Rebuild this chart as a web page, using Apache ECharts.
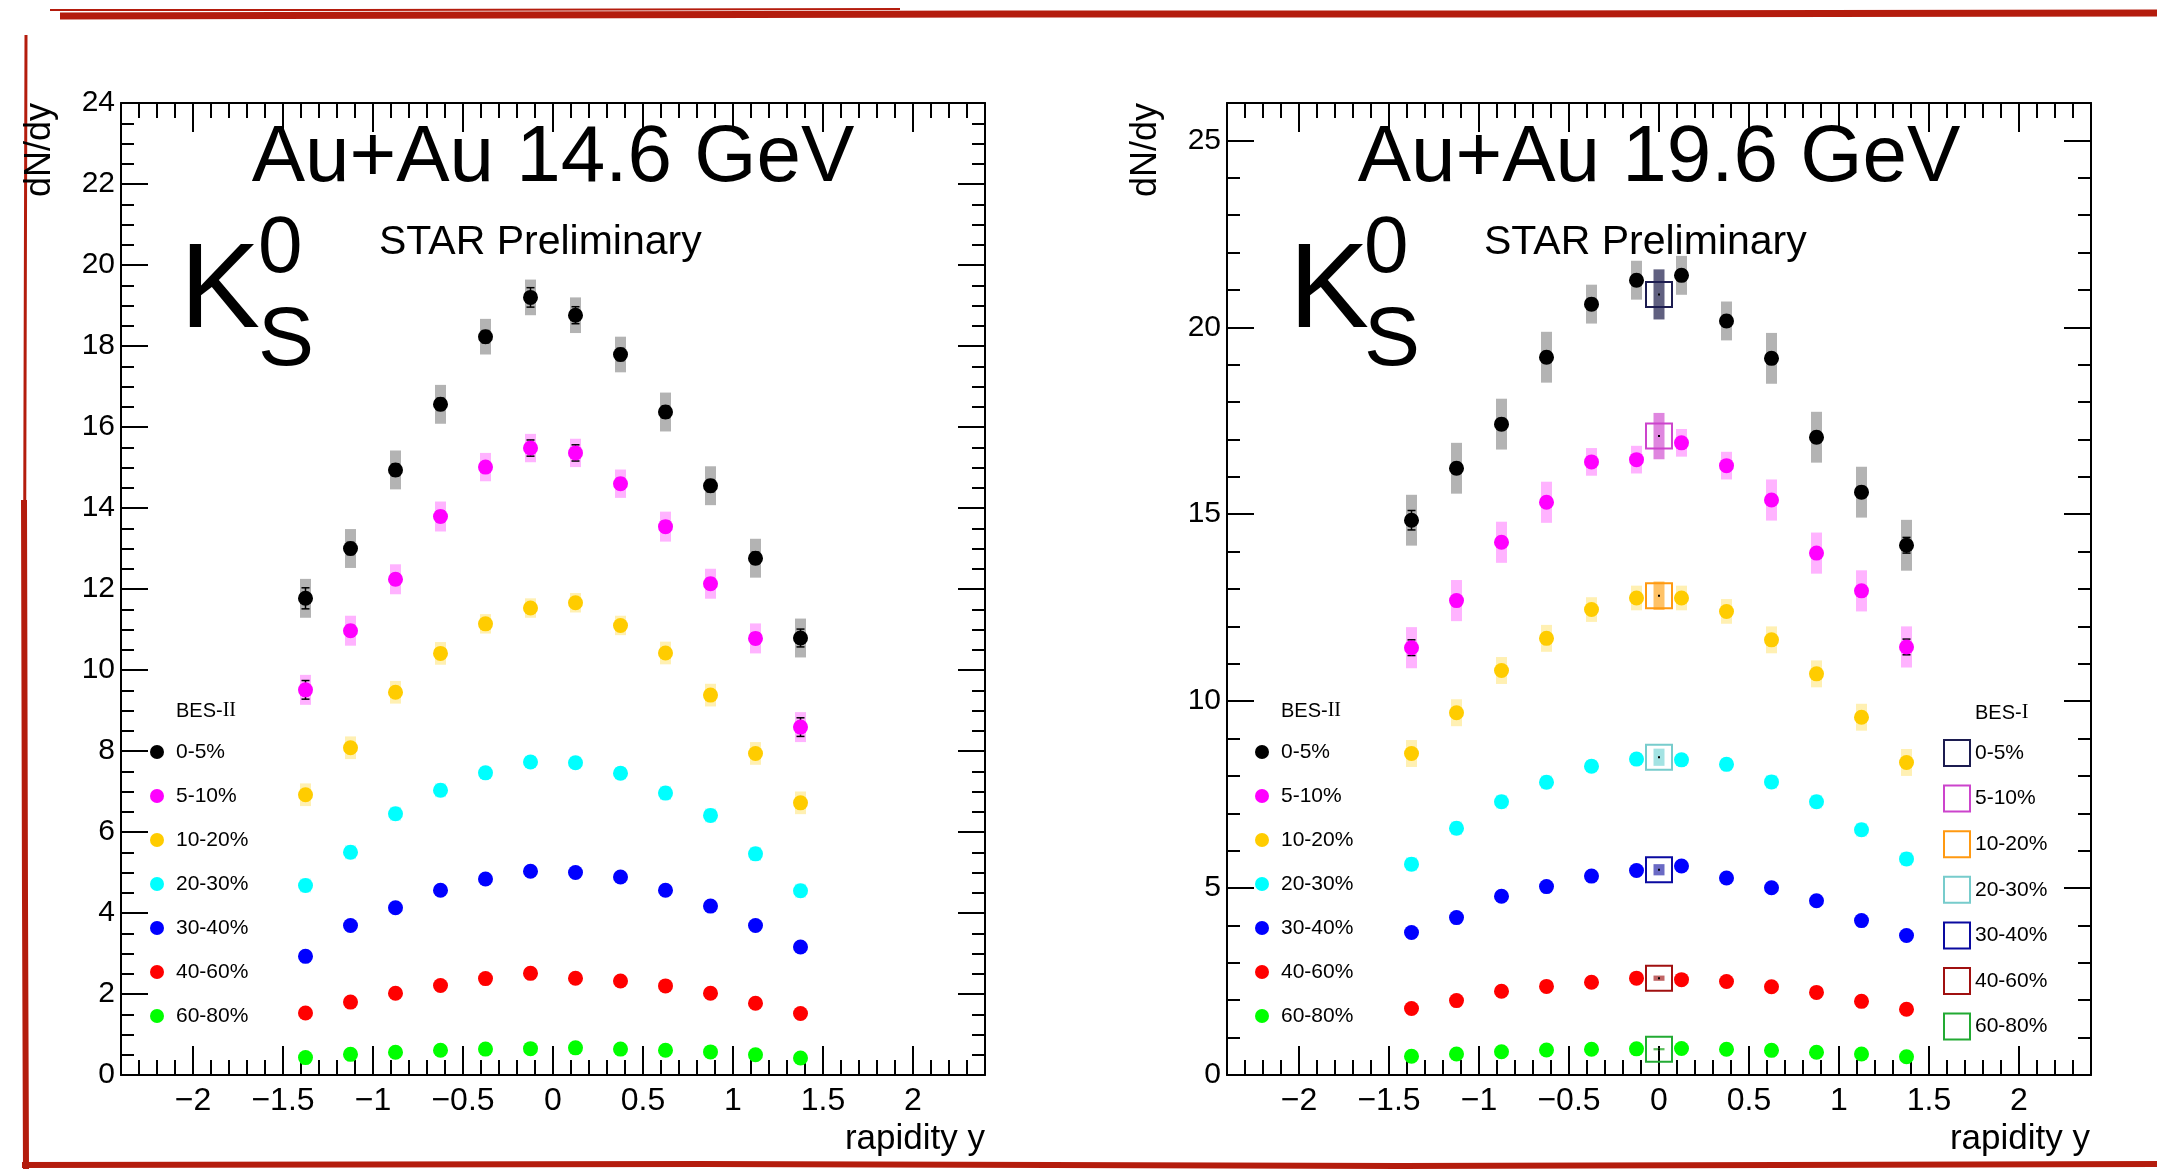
<!DOCTYPE html>
<html>
<head>
<meta charset="UTF-8">
<script src="https://cdn.jsdelivr.net/npm/echarts@6.0.0/dist/echarts.min.js"></script>
<style>
  html, body { margin: 0; padding: 0; background: #fff; }
  #chart { width: 2157px; height: 1169px; }
</style>
</head>
<body>
<div id="chart"></div>
<script>
// centrality classes and rapidity bin centres
var centralities = ['0-5%', '5-10%', '10-20%', '20-30%', '30-40%', '40-60%', '60-80%'];
var rapidity = [-1.375, -1.125, -0.875, -0.625, -0.375, -0.125, 0.125, 0.375, 0.625, 0.875, 1.125, 1.375];

// axis ticks
var xMajorTicks = [-2, -1.5, -1, -0.5, 0, 0.5, 1, 1.5, 2];
var y146Ticks = [0, 2, 4, 6, 8, 10, 12, 14, 16, 18, 20, 22, 24];
var y196Ticks = [0, 5, 10, 15, 20, 25];

// Au+Au 14.6 GeV, BES-II : dN/dy
var k146_0_5   = [11.77, 13.00, 14.94, 16.56, 18.23, 19.20, 18.76, 17.79, 16.37, 14.55, 12.76, 10.79];
var k146_5_10  = [9.51, 10.97, 12.24, 13.79, 15.01, 15.48, 15.36, 14.60, 13.54, 12.13, 10.78, 8.59];
var k146_10_20 = [6.92, 8.08, 9.45, 10.41, 11.14, 11.53, 11.66, 11.10, 10.42, 9.38, 7.94, 6.72];
var k146_20_30 = [4.68, 5.50, 6.45, 7.03, 7.46, 7.73, 7.71, 7.45, 6.96, 6.41, 5.46, 4.55];
var k146_30_40 = [2.93, 3.69, 4.13, 4.56, 4.84, 5.03, 5.00, 4.89, 4.56, 4.17, 3.69, 3.16];
var k146_40_60 = [1.53, 1.80, 2.02, 2.21, 2.38, 2.51, 2.39, 2.32, 2.20, 2.02, 1.77, 1.52];
var k146_60_80 = [0.43, 0.51, 0.56, 0.61, 0.64, 0.65, 0.67, 0.64, 0.61, 0.57, 0.50, 0.42];
// systematic errors
var sys146_0_5   = [0.48, 0.48, 0.48, 0.48, 0.44, 0.44, 0.44, 0.44, 0.48, 0.48, 0.48, 0.48];
var sys146_5_10  = [0.37, 0.37, 0.37, 0.37, 0.35, 0.35, 0.35, 0.35, 0.37, 0.37, 0.37, 0.37];
var sys146_10_20 = [0.28, 0.28, 0.28, 0.28, 0.24, 0.24, 0.24, 0.24, 0.28, 0.28, 0.28, 0.28];
var sys146_20_30 = [0.17, 0.17, 0.17, 0.17, 0.15, 0.15, 0.15, 0.15, 0.17, 0.17, 0.17, 0.17];
var sys146_30_40 = [0.11, 0.11, 0.11, 0.11, 0.10, 0.10, 0.10, 0.10, 0.11, 0.11, 0.11, 0.11];
var sys146_40_60 = [0.06, 0.06, 0.06, 0.06, 0.05, 0.05, 0.05, 0.05, 0.06, 0.06, 0.06, 0.06];
var sys146_60_80 = [0.02, 0.02, 0.02, 0.02, 0.02, 0.02, 0.02, 0.02, 0.02, 0.02, 0.02, 0.02];
// statistical errors
var stat146_0_5   = [0.26, 0.15, 0.15, 0.15, 0.15, 0.24, 0.21, 0.15, 0.15, 0.15, 0.15, 0.22];
var stat146_5_10  = [0.23, 0.13, 0.13, 0.13, 0.13, 0.20, 0.20, 0.13, 0.13, 0.13, 0.13, 0.23];
var stat146_10_20 = [0.10, 0.08, 0.08, 0.08, 0.08, 0.10, 0.10, 0.08, 0.08, 0.08, 0.08, 0.10];
var stat146_20_30 = [0.07, 0.06, 0.06, 0.06, 0.06, 0.07, 0.07, 0.06, 0.06, 0.06, 0.06, 0.07];
var stat146_30_40 = [0.05, 0.04, 0.04, 0.04, 0.04, 0.05, 0.05, 0.04, 0.04, 0.04, 0.04, 0.05];
var stat146_40_60 = [0.03, 0.03, 0.03, 0.03, 0.03, 0.03, 0.03, 0.03, 0.03, 0.03, 0.03, 0.03];
var stat146_60_80 = [0.02, 0.02, 0.02, 0.02, 0.02, 0.02, 0.02, 0.02, 0.02, 0.02, 0.02, 0.02];

// Au+Au 19.6 GeV, BES-II : dN/dy
var k196_0_5   = [14.84, 16.23, 17.41, 19.20, 20.62, 21.26, 21.39, 20.17, 19.17, 17.06, 15.59, 14.17];
var k196_5_10  = [11.43, 12.69, 14.25, 15.32, 16.40, 16.46, 16.91, 16.30, 15.38, 13.96, 12.95, 11.45];
var k196_10_20 = [8.60, 9.69, 10.82, 11.68, 12.45, 12.76, 12.76, 12.40, 11.64, 10.73, 9.57, 8.36];
var k196_20_30 = [5.64, 6.60, 7.31, 7.83, 8.26, 8.45, 8.43, 8.31, 7.84, 7.31, 6.56, 5.78];
var k196_30_40 = [3.81, 4.21, 4.78, 5.04, 5.32, 5.47, 5.59, 5.27, 5.01, 4.66, 4.13, 3.73];
var k196_40_60 = [1.78, 1.99, 2.24, 2.37, 2.48, 2.59, 2.55, 2.50, 2.36, 2.21, 1.97, 1.76];
var k196_60_80 = [0.50, 0.56, 0.62, 0.67, 0.69, 0.70, 0.71, 0.69, 0.66, 0.61, 0.56, 0.49];
var sys196_0_5   = [0.68, 0.68, 0.68, 0.68, 0.52, 0.52, 0.52, 0.52, 0.68, 0.68, 0.68, 0.68];
var sys196_5_10  = [0.55, 0.55, 0.55, 0.55, 0.37, 0.37, 0.37, 0.37, 0.55, 0.55, 0.55, 0.55];
var sys196_10_20 = [0.36, 0.36, 0.36, 0.36, 0.33, 0.33, 0.33, 0.33, 0.36, 0.36, 0.36, 0.36];
var sys196_20_30 = [0.18, 0.18, 0.18, 0.18, 0.16, 0.16, 0.16, 0.16, 0.18, 0.18, 0.18, 0.18];
var sys196_30_40 = [0.11, 0.11, 0.11, 0.11, 0.10, 0.10, 0.10, 0.10, 0.11, 0.11, 0.11, 0.11];
var sys196_40_60 = [0.06, 0.06, 0.06, 0.06, 0.05, 0.05, 0.05, 0.05, 0.06, 0.06, 0.06, 0.06];
var sys196_60_80 = [0.02, 0.02, 0.02, 0.02, 0.02, 0.02, 0.02, 0.02, 0.02, 0.02, 0.02, 0.02];
var stat196_0_5   = [0.26, 0.15, 0.15, 0.15, 0.15, 0.15, 0.15, 0.15, 0.15, 0.15, 0.15, 0.21];
var stat196_5_10  = [0.21, 0.13, 0.13, 0.13, 0.13, 0.13, 0.13, 0.13, 0.13, 0.13, 0.13, 0.21];
var stat196_10_20 = [0.10, 0.08, 0.08, 0.08, 0.08, 0.08, 0.08, 0.08, 0.08, 0.08, 0.08, 0.10];
var stat196_20_30 = [0.07, 0.06, 0.06, 0.06, 0.06, 0.06, 0.06, 0.06, 0.06, 0.06, 0.06, 0.07];
var stat196_30_40 = [0.05, 0.04, 0.04, 0.04, 0.04, 0.04, 0.04, 0.04, 0.04, 0.04, 0.04, 0.05];
var stat196_40_60 = [0.03, 0.03, 0.03, 0.03, 0.03, 0.03, 0.03, 0.03, 0.03, 0.03, 0.03, 0.03];
var stat196_60_80 = [0.02, 0.02, 0.02, 0.02, 0.02, 0.02, 0.02, 0.02, 0.02, 0.02, 0.02, 0.02];

// Au+Au 19.6 GeV, BES-I (one point at y = 0)
var besI_y    = [0, 0, 0, 0, 0, 0, 0];
var besI_dndy = [20.88, 17.09, 12.82, 8.50, 5.49, 2.59, 0.69];
var besI_sys  = [0.67, 0.62, 0.38, 0.23, 0.15, 0.07, 0.03];

var markerColors = ['#000000', '#ff00ff', '#ffcc00', '#00ffff', '#0000ff', '#ff0000', '#00ff00'];
var sysColors    = ['#b3b3b3', '#ffb3ff', '#fff0b3', '#b3ffff', '#b3b3ff', '#ffb3b3', '#b3ffb3'];
var besIColors   = ['#1c1c50', '#cc44cc', '#ff9911', '#77cccc', '#0a0aa0', '#a01010', '#22aa33'];
var besIBands    = ['#606080', '#df86df', '#ffc266', '#a3e3e3', '#6a6ac4', '#c06464', '#5cbf5c'];

var SANS = "'Liberation Sans', Arial, Helvetica, sans-serif";
var SERIF = "'Liberation Serif', 'Times New Roman', serif";

var vals146 = [k146_0_5, k146_5_10, k146_10_20, k146_20_30, k146_30_40, k146_40_60, k146_60_80];
var sys146  = [sys146_0_5, sys146_5_10, sys146_10_20, sys146_20_30, sys146_30_40, sys146_40_60, sys146_60_80];
var stat146 = [stat146_0_5, stat146_5_10, stat146_10_20, stat146_20_30, stat146_30_40, stat146_40_60, stat146_60_80];
var vals196 = [k196_0_5, k196_5_10, k196_10_20, k196_20_30, k196_30_40, k196_40_60, k196_60_80];
var sys196  = [sys196_0_5, sys196_5_10, sys196_10_20, sys196_20_30, sys196_30_40, sys196_40_60, sys196_60_80];
var stat196 = [stat196_0_5, stat196_5_10, stat196_10_20, stat196_20_30, stat196_30_40, stat196_40_60, stat196_60_80];

var chart = echarts.init(document.getElementById('chart'));

function fmtX(v) {
  return v === 0 ? '0' : String(v).replace('-', '\u2212');
}

var frameLine = { show: true, onZero: false, lineStyle: { color: '#000', width: 2 } };
var noLine = { show: false, onZero: false };
var tickLine = { color: '#000', width: 2 };

// 4 x axes per pad: bottom major, bottom minor, top major, top minor
function xAxesFor(g) {
  var base = { gridIndex: g, type: 'value', min: -2.4, max: 2.4, splitLine: { show: false } };
  return [
    Object.assign({}, base, { position: 'bottom', axisLine: frameLine,
      axisTick: { inside: true, length: 29, customValues: xMajorTicks, lineStyle: tickLine },
      axisLabel: { customValues: xMajorTicks, formatter: fmtX, fontSize: 32, fontFamily: SANS, color: '#000', margin: 10 } }),
    Object.assign({}, base, { position: 'bottom', interval: 0.1, axisLine: noLine,
      axisTick: { inside: true, length: 15, lineStyle: tickLine }, axisLabel: { show: false } }),
    Object.assign({}, base, { position: 'top', axisLine: frameLine,
      axisTick: { inside: true, length: 29, customValues: xMajorTicks, lineStyle: tickLine }, axisLabel: { show: false } }),
    Object.assign({}, base, { position: 'top', interval: 0.1, axisLine: noLine,
      axisTick: { inside: true, length: 15, lineStyle: tickLine }, axisLabel: { show: false } })
  ];
}

function yAxesFor(g, max, ticks, minorStep) {
  var base = { gridIndex: g, type: 'value', min: 0, max: max, splitLine: { show: false } };
  return [
    Object.assign({}, base, { position: 'left', axisLine: frameLine,
      axisTick: { inside: true, length: 27, customValues: ticks, lineStyle: tickLine },
      axisLabel: { customValues: ticks, fontSize: 30, fontFamily: SANS, color: '#000', margin: 6 } }),
    Object.assign({}, base, { position: 'left', interval: minorStep, axisLine: noLine,
      axisTick: { inside: true, length: 13, lineStyle: tickLine }, axisLabel: { show: false } }),
    Object.assign({}, base, { position: 'right', axisLine: frameLine,
      axisTick: { inside: true, length: 27, customValues: ticks, lineStyle: tickLine }, axisLabel: { show: false } }),
    Object.assign({}, base, { position: 'right', interval: minorStep, axisLine: noLine,
      axisTick: { inside: true, length: 13, lineStyle: tickLine }, axisLabel: { show: false } })
  ];
}

function renderSys(params, api) {
  var x = api.value(0), y = api.value(1), e = api.value(2), g = api.value(3);
  var hi = api.coord([x, y + e]), lo = api.coord([x, y - e]);
  return { type: 'rect', shape: { x: hi[0] - 5.5, y: hi[1], width: 11, height: lo[1] - hi[1] },
           style: { fill: sysColors[g] } };
}

function renderStat(params, api) {
  var x = api.value(0), y = api.value(1), e = api.value(2);
  var hi = api.coord([x, y + e]), lo = api.coord([x, y - e]);
  var st = { stroke: '#000', lineWidth: 1.5 };
  return { type: 'group', children: [
    { type: 'line', shape: { x1: hi[0], y1: hi[1], x2: lo[0], y2: lo[1] }, style: st },
    { type: 'line', shape: { x1: hi[0] - 4, y1: hi[1], x2: hi[0] + 4, y2: hi[1] }, style: st },
    { type: 'line', shape: { x1: lo[0] - 4, y1: lo[1], x2: lo[0] + 4, y2: lo[1] }, style: st }
  ] };
}

function renderBesI(params, api) {
  var x = api.value(0), y = api.value(1), e = api.value(2), g = api.value(3);
  var c = api.coord([x, y]), hi = api.coord([x, y + e]), lo = api.coord([x, y - e]);
  return { type: 'group', children: [
    { type: 'rect', shape: { x: c[0] - 5.5, y: hi[1], width: 11, height: lo[1] - hi[1] }, style: { fill: besIBands[g] } },
    { type: 'rect', shape: { x: c[0] - 13, y: c[1] - 12.5, width: 26, height: 25 }, style: { fill: 'none', stroke: besIColors[g], lineWidth: 2 } },
    { type: 'rect', shape: { x: c[0] - 1, y: c[1] - 1, width: 2, height: 2 }, style: { fill: '#000' } }
  ] };
}

function padSeries(p, vals, sys, stat) {
  var out = [];
  var sysRows = [], statRows = [];
  for (var g = 0; g < vals.length; g++) {
    for (var i = 0; i < rapidity.length; i++) {
      sysRows.push([rapidity[i], vals[g][i], sys[g][i], g]);
      statRows.push([rapidity[i], vals[g][i], stat[g][i]]);
    }
  }
  out.push({ type: 'custom', name: 'sys' + p, xAxisIndex: p * 4, yAxisIndex: p * 4, silent: true,
             renderItem: renderSys, encode: { x: 0, y: 1 }, data: sysRows, z: 2 });
  if (p === 1) {
    for (var b = 0; b < centralities.length; b++) {
      out.push({ type: 'custom', name: 'BES-I ' + centralities[b], xAxisIndex: 4, yAxisIndex: 4, silent: true,
                 itemStyle: { color: besIColors[b] }, renderItem: renderBesI, encode: { x: 0, y: 1 },
                 data: [[besI_y[b], besI_dndy[b], besI_sys[b], b]], z: 3 });
    }
  }
  out.push({ type: 'custom', name: 'stat' + p, xAxisIndex: p * 4, yAxisIndex: p * 4, silent: true,
             renderItem: renderStat, encode: { x: 0, y: 1 }, data: statRows, z: 4 });
  for (var k = 0; k < vals.length; k++) {
    (function (g) {
      out.push({ type: 'scatter', name: centralities[g], xAxisIndex: p * 4, yAxisIndex: p * 4, silent: true,
                 symbol: 'circle', symbolSize: 15, itemStyle: { color: markerColors[g], opacity: 1 },
                 data: rapidity.map(function (x, i) { return [x, vals[g][i]]; }), z: 5 });
    })(k);
  }
  return out;
}

function legendBesII(left) {
  return { orient: 'vertical', left: left, top: 740, itemWidth: 14, itemHeight: 14, itemGap: 20, padding: 0,
           selectedMode: false,
           data: centralities.map(function (n) { return { name: n, icon: 'circle' }; }),
           textStyle: { fontSize: 21, lineHeight: 24, fontFamily: SANS, color: '#000', padding: [0, 0, 0, 7] } };
}

function text(x, y, str, size, align, extra) {
  var el = { type: 'text', x: x, y: y, silent: true,
             style: { text: str, fontSize: size, fontFamily: SANS, fill: '#000', align: align || 'left', verticalAlign: 'middle' } };
  if (extra) Object.assign(el, extra);
  return el;
}

function besLabel(x, y, main, roman) {
  return { type: 'text', x: x, y: y, silent: true,
           style: { text: '{a|' + main + '}{b|' + roman + '}', align: 'left', verticalAlign: 'middle',
                    rich: { a: { fontSize: 20, fontFamily: SANS, fill: '#000' },
                            b: { fontSize: 20, fontFamily: SERIF, fill: '#000' } } } };
}

var red = '#b41c0d';
var graphics = [
  // hand drawn frame of the slide
  { type: 'polyline', silent: true, shape: { points: [[60, 16], [500, 15], [1000, 14], [1500, 14], [2157, 13]] }, style: { stroke: red, lineWidth: 7, fill: 'none' } },
  { type: 'polyline', silent: true, shape: { points: [[50, 10], [350, 10], [900, 9]] }, style: { stroke: red, lineWidth: 2, fill: 'none' } },
  { type: 'polyline', silent: true, shape: { points: [[26, 35], [25, 400], [24, 800]] }, style: { stroke: red, lineWidth: 3, fill: 'none' } },
  { type: 'polyline', silent: true, shape: { points: [[24, 500], [25, 900], [26, 1169]] }, style: { stroke: red, lineWidth: 6, fill: 'none' } },
  { type: 'polyline', silent: true, shape: { points: [[22, 1165], [700, 1164], [1400, 1166], [2157, 1164]] }, style: { stroke: red, lineWidth: 6, fill: 'none' } },

  // left pad
  text(553, 159, 'Au+Au 14.6 GeV', 80, 'center'),
  text(379, 243, 'STAR Preliminary', 41),
  text(180, 294, 'K', 120),
  text(258, 250, '0', 80),
  text(258, 342, 'S', 84),
  text(40, 103, 'dN/dy', 36, 'right', { rotation: Math.PI / 2 }),
  text(985, 1139, 'rapidity y', 35, 'right'),
  besLabel(176, 711, 'BES-', 'II'),

  // right pad
  text(1659, 159, 'Au+Au 19.6 GeV', 80, 'center'),
  text(1484, 243, 'STAR Preliminary', 41),
  text(1289, 294, 'K', 120),
  text(1364, 250, '0', 80),
  text(1364, 342, 'S', 84),
  text(1146, 103, 'dN/dy', 36, 'right', { rotation: Math.PI / 2 }),
  text(2090, 1139, 'rapidity y', 35, 'right'),
  besLabel(1281, 711, 'BES-', 'II'),
  besLabel(1975, 713, 'BES-', 'I')
];

var option = {
  animation: false,
  backgroundColor: '#fff',
  grid: [
    { left: 121, top: 103, width: 864, height: 972, outerBoundsMode: 'none' },
    { left: 1227, top: 103, width: 864, height: 972, outerBoundsMode: 'none' }
  ],
  xAxis: xAxesFor(0).concat(xAxesFor(1)),
  yAxis: yAxesFor(0, 24, y146Ticks, 0.5).concat(yAxesFor(1, 26, y196Ticks, 1)),
  legend: [
    legendBesII(150),
    legendBesII(1255),
    { orient: 'vertical', left: 1943, top: 739, itemWidth: 26, itemHeight: 26, itemGap: 17.6, padding: 0,
      selectedMode: false,
      data: centralities.map(function (n, g) {
        return { name: 'BES-I ' + n, icon: 'rect',
                 itemStyle: { color: '#ffffff', borderColor: besIColors[g], borderWidth: 2 } };
      }),
      formatter: function (n) { return n.replace('BES-I ', ''); },
      textStyle: { fontSize: 21, lineHeight: 24, fontFamily: SANS, color: '#000' } }
  ],
  graphic: graphics,
  series: padSeries(0, vals146, sys146, stat146).concat(padSeries(1, vals196, sys196, stat196))
};

chart.setOption(option);
</script>
</body>
</html>
